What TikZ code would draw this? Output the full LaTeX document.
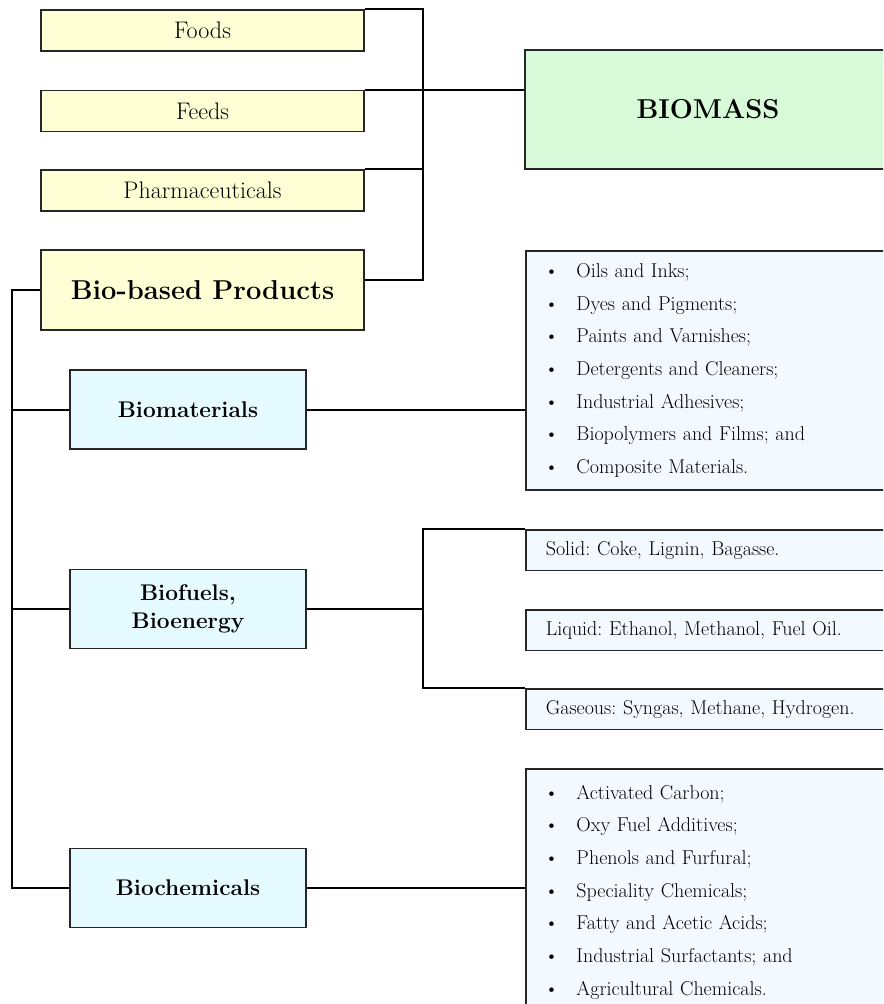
\documentclass[tikz,border=0pt]{standalone}
\usepackage{tikz}
\usetikzlibrary{positioning}
\definecolor{prodyellow}{HTML}{FFFFD5}
\definecolor{massgreen}{HTML}{D9FAD9}
\definecolor{catblue}{HTML}{E6FBFF}
\definecolor{listblue}{HTML}{F3FAFF}
\newcommand{\listdot}{\makebox[24pt][l]{\textbullet}}
\frenchspacing

\begin{document}
\begin{tikzpicture}[x=0.75pt, y=-0.75pt,
  ybox/.style={draw=black!85, line width=1.2pt, fill=prodyellow, minimum width=242.25pt,
    minimum height=30.75pt, inner sep=0pt, font=\fontsize{18}{21}\selectfont},
  bigbox/.style={draw=black!85, line width=1.2pt, inner sep=0pt, font=\bfseries\fontsize{20.5}{24}\selectfont},
  catbox/.style={draw=black!85, line width=1.2pt, fill=catblue, minimum width=177pt,
    minimum height=59.25pt, inner sep=0pt, align=center, font=\bfseries\fontsize{17}{21}\selectfont},
  listbox/.style={draw=black!85, line width=1.2pt, fill=listblue, anchor=north west, text width=262pt,
    inner xsep=14pt, inner ysep=0pt, align=left, font=\fontsize{15}{24.5}\selectfont},
  fuelbox/.style={listbox, inner xsep=15pt, minimum height=30.4pt},
  link/.style={line width=1.5pt}]
  \clip (0,0) rectangle (883,1004);

  \draw (202.5,30.5) node[ybox] (foods) {Foods};
  \draw (202.5,111) node[ybox] (feeds) {Feeds};
  \draw (202.5,190.5) node[ybox] (pharma) {Pharmaceuticals};
  \draw (202.5,290) node[bigbox, fill=prodyellow, minimum width=242.25pt, minimum height=60pt] (bioprod) {Bio-based Products};
  \draw (708,109.5) node[bigbox, fill=massgreen, minimum width=274.5pt, minimum height=89.25pt] (biomass) {BIOMASS};

  \draw (188,409.5) node[catbox] (biomat) {Biomaterials};
  \draw (188,609) node[catbox] (biofuel) {Biofuels,\\Bioenergy};
  \draw (188,888) node[catbox] (biochem) {Biochemicals};

  \draw (525,250) node[listbox, minimum height=179.25pt] (matlist)
    {\listdot Oils and Inks;\\ \listdot Dyes and Pigments;\\ \listdot Paints and Varnishes;\\
     \listdot Detergents and Cleaners;\\ \listdot Industrial Adhesives;\\
     \listdot Biopolymers and Films; and\\ \listdot Composite Materials.\\[-6pt]};
  \draw (525,529) node[fuelbox] (solid) {Solid: Coke, Lignin, Bagasse.};
  \draw (525,609) node[fuelbox] (liquid) {Liquid: Ethanol, Methanol, Fuel Oil.};
  \draw (525,688) node[fuelbox] (gas) {Gaseous: Syngas, Methane, Hydrogen.};
  \draw (525,768) node[listbox, minimum height=185pt] (chemlist)
    {\listdot Activated Carbon;\\ \listdot Oxy Fuel Additives;\\ \listdot Phenols and Furfural;\\
     \listdot Speciality Chemicals;\\ \listdot Fatty and Acetic Acids;\\
     \listdot Industrial Surfactants; and\\ \listdot Agricultural Chemicals.};

  \coordinate (rbus) at (423,0);
  \coordinate (lbus) at (12,0);

  \draw[link] (foods.north east) -- (foods.north east -| rbus) -- ([yshift=7.5pt]bioprod.east -| rbus) -- ([yshift=7.5pt]bioprod.east);
  \draw[link] (feeds.north east) -- (feeds.north east -| biomass.west);
  \draw[link] (pharma.north east) -- (pharma.north east -| rbus);

  \draw[link] (bioprod.west) -- (bioprod.west -| lbus) -- (biochem.west -| lbus) -- (biochem.west);
  \draw[link] (biomat.west -| lbus) -- (biomat.west);
  \draw[link] (biofuel.west -| lbus) -- (biofuel.west);

  \draw[link] (biomat.east) -- (biomat.east -| matlist.west);
  \draw[link] (biochem.east) -- (biochem.east -| chemlist.west);
  \draw[link] (biofuel.east) -- (biofuel.east -| rbus);
  \draw[link] (solid.north west) -- (solid.north west -| rbus) -- (gas.north west -| rbus) -- (gas.north west);
\end{tikzpicture}
\end{document}
